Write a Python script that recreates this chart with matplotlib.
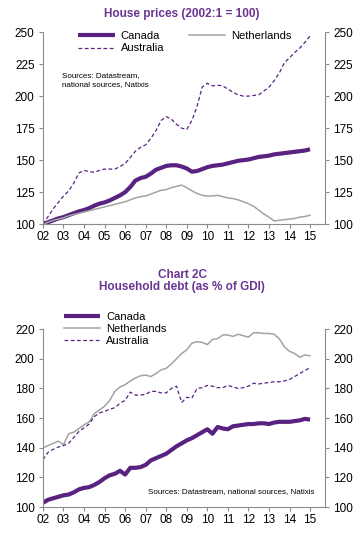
import numpy as np
import matplotlib
matplotlib.use("Agg")
import matplotlib.pyplot as plt

plt.rcParams['font.family'] = ['Liberation Sans', 'DejaVu Sans']

# quarterly, 2002Q1 .. 2015Q1
quarters = 2002 + 0.25 * np.arange(53)

# Chart: house prices (2002:1 = 100)
hp_canada = [100, 101.5, 103, 104.5, 105.5, 107, 108.5, 110, 111, 112.5, 114.5, 116,
             117, 118.5, 120.5, 122.5, 125, 129, 134, 136, 137, 139.5, 142.5, 144,
             145.5, 146, 146, 145, 143.5, 141, 141.5, 143, 144.5, 145.5, 146, 146.5,
             147.5, 148.5, 149.5, 150, 150.5, 151.5, 152.5, 153, 153.5, 154.5, 155,
             155.5, 156, 156.5, 157, 157.5, 158.5]
hp_netherlands = [100, 101.5, 103, 104, 105, 106.5, 107.5, 108.5, 109.5, 110.5, 111.5, 112.5,
                  113.5, 114.5, 115.5, 116.5, 117.5, 119, 120.5, 121.5, 122, 123.5, 125, 126.5,
                  127, 128.5, 129.5, 130.5, 128.5, 126, 124, 122.5, 122, 122, 122.5, 121.5,
                  120.5, 120, 119, 117.5, 116, 114, 111, 108, 105.5, 102.5, 103, 103.5,
                  104, 104.5, 105.5, 106, 107]
hp_australia = [100, 106, 112, 117, 122, 126, 132, 140, 142, 141, 140.5, 142,
                143, 143, 143, 145, 147.5, 152, 157, 160, 162, 167, 173, 181,
                184, 182, 178, 175, 174, 181, 192, 207, 210, 208, 208.5, 208,
                205.5, 203, 201, 200, 200, 200.5, 201, 204, 207, 212, 218, 226,
                230, 234, 237.5, 242, 247]

# Chart 2C: household debt (as % of GDI)
hd_canada = [103, 105, 106, 107, 108, 108.5, 110, 112, 113, 113.5, 115, 117,
             119.5, 121.5, 122.5, 124.5, 122, 126.5, 126.5, 127, 128.5, 131.5, 133, 134.5,
             136, 138.5, 141, 143, 145, 146.5, 148.5, 150.5, 152.5, 149.5, 154, 153,
             152.5, 154.5, 155, 155.5, 156, 156, 156.5, 156.5, 156, 157, 157.5, 157.5,
             157.5, 158, 158.5, 159.5, 159]
hd_netherlands = [140, 141.5, 143, 144.5, 142, 149.5, 150.5, 153, 155.5, 157.5, 163, 165.5,
                  168, 172, 178, 181, 182.5, 185, 187, 188.5, 189, 188, 190, 192.5,
                  193.5, 196.5, 200, 203.5, 206, 210.5, 211.5, 211, 209.5, 213, 213.5, 216,
                  216, 215, 216.5, 215.5, 214.5, 217.5, 217.5, 217, 217, 216.5, 213.5, 208,
                  205, 203.5, 201, 202.5, 202]
hd_australia = [132, 137, 139, 140.5, 141.5, 143, 147, 151, 153.5, 156, 161, 163.5,
                164.5, 166, 167, 170, 172, 177.5, 175.5, 175.5, 176, 178, 178, 177,
                177, 180, 181.5, 170.5, 174, 173.5, 180, 180.5, 182, 181.5, 180.5, 180.5,
                182, 181, 180, 180.5, 181.5, 183.5, 183, 183.5, 184, 184.5, 184.5, 185,
                186, 188, 190, 192, 194]

year_ticks = np.arange(2002, 2016)
year_labels = ["%02d" % (y % 100) for y in year_ticks]

purple = "#5a2280"
title_purple = "#6a3593"
grey = "#a3a3a3"
spine_grey = "#8c8c8c"

fig = plt.figure(figsize=(3.64, 5.35), dpi=100)


def style_axes(ax, ylim, yticks):
    ax.set_xlim(2002, 2015.73)
    ax.set_ylim(*ylim)
    ax.set_xticks(year_ticks)
    ax.set_xticklabels(year_labels)
    ax.set_yticks(yticks)
    for s in ["left", "right", "bottom"]:
        ax.spines[s].set_color(spine_grey)
        ax.spines[s].set_linewidth(0.8)
    ax.spines["top"].set_visible(False)
    ax.tick_params(axis="both", direction="out", length=3, width=0.8, color=spine_grey,
                   labelsize=8.5, pad=2)
    ax.tick_params(axis="y", left=True, right=True, labelleft=True, labelright=True, pad=3)


# ---- top chart
ax1 = fig.add_axes([0.118, 0.581, 0.775, 0.359])
l_ca, = ax1.plot(quarters, hp_canada, color=purple, lw=3, solid_capstyle="butt", label="Canada")
l_nl, = ax1.plot(quarters, hp_netherlands, color=grey, lw=1.1, label="Netherlands")
l_au, = ax1.plot(quarters, hp_australia, color=purple, lw=0.9, ls=(0, (3, 2)), label="Australia")
style_axes(ax1, (100, 250), [100, 125, 150, 175, 200, 225, 250])
ax1.legend(handles=[l_ca, l_au, l_nl], ncol=2, frameon=False, fontsize=8,
           loc="upper left", bbox_to_anchor=(0.2, 0.952), bbox_transform=fig.transFigure,
           handlelength=3.3, handletextpad=0.5, columnspacing=2.2, labelspacing=0.2,
           borderpad=0)
fig.text(0.17, 0.865, "Sources: Datastream,\nnational sources, Natixis", fontsize=5.8,
         va="top", ha="left", linespacing=1.45)
fig.text(0.5, 0.985, "House prices (2002:1 = 100)", fontsize=8.5, fontweight="bold",
         color=title_purple, ha="center", va="top")

# ---- bottom chart
ax2 = fig.add_axes([0.118, 0.052, 0.775, 0.333])
b_ca, = ax2.plot(quarters, hd_canada, color=purple, lw=3, solid_capstyle="butt", label="Canada")
b_nl, = ax2.plot(quarters, hd_netherlands, color=grey, lw=1.1, label="Netherlands")
b_au, = ax2.plot(quarters, hd_australia, color=purple, lw=0.9, ls=(0, (3, 2)), label="Australia")
style_axes(ax2, (100, 220), [100, 120, 140, 160, 180, 200, 220])
ax2.legend(handles=[b_ca, b_nl, b_au], frameon=False, fontsize=8,
           loc="upper left", bbox_to_anchor=(0.16, 0.428), bbox_transform=fig.transFigure,
           handlelength=3.3, handletextpad=0.5, labelspacing=0.2, borderpad=0)
fig.text(0.865, 0.075, "Sources: Datastream, national sources, Natixis", fontsize=5.8,
         ha="right", va="bottom")
fig.text(0.5, 0.498, "Chart 2C\nHousehold debt (as % of GDI)", fontsize=8.5,
         fontweight="bold", color=title_purple, ha="center", va="top", linespacing=1.1)

fig.savefig("out.png", dpi=100)
